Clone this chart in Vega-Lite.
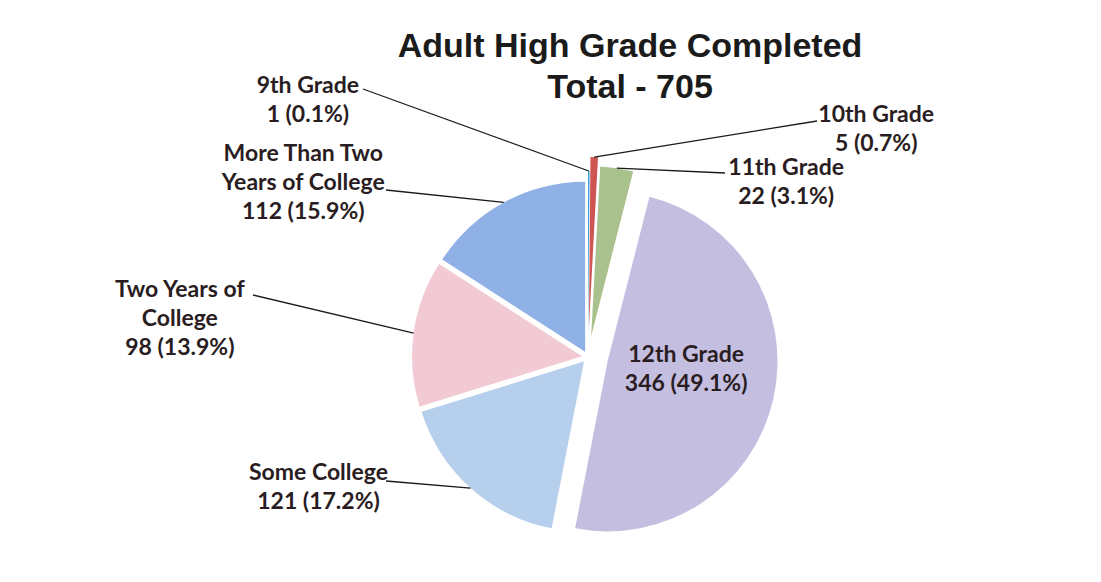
{
  "$schema": "https://vega.github.io/schema/vega-lite/v6.json",
  "width": 1024,
  "height": 448,
  "autosize": "none",
  "padding": {"left": 76, "top": 133, "right": 1, "bottom": 1},
  "background": "white",
  "config": {"view": {"stroke": null}},
  "title": {
    "text": ["Adult High Grade Completed", "Total - 705"],
    "font": "Liberation Sans",
    "fontSize": 34,
    "fontWeight": "bold",
    "color": "#1b1b1b",
    "lineHeight": 41,
    "anchor": "middle",
    "dx": 42,
    "offset": -30
  },
  "data": {
    "values": [
      {"cat": "9th Grade", "n": 1, "label": "9th Grade\n1 (0.1%)"},
      {"cat": "10th Grade", "n": 5, "label": "10th Grade\n5 (0.7%)"},
      {"cat": "11th Grade", "n": 22, "label": "11th Grade\n22 (3.1%)"},
      {"cat": "12th Grade", "n": 346, "label": "12th Grade\n346 (49.1%)"},
      {"cat": "Some College", "n": 121, "label": "Some College\n121 (17.2%)"},
      {"cat": "Two Years of College", "n": 98, "label": "Two Years of\nCollege\n98 (13.9%)"},
      {"cat": "More Than Two Years of College", "n": 112, "label": "More Than Two\nYears of College\n112 (15.9%)"}
    ]
  },
  "transform": [
    {"window": [{"op": "row_number", "as": "idx"}]},
    {"stack": "n", "groupby": [], "sort": [{"field": "idx", "order": "ascending"}], "as": ["s0", "s1"]}
  ],
  "layer": [
    {
      "mark": {
        "type": "arc",
        "radius": 170,
        "xOffset": {"expr": "(datum.idx==1?16:datum.idx==2?30:datum.idx==3?21:datum.idx==4?20:6) * sin(PI*(datum.s0+datum.s1)/705)"},
        "yOffset": {"expr": "-(datum.idx==1?16:datum.idx==2?30:datum.idx==3?21:datum.idx==4?20:6) * cos(PI*(datum.s0+datum.s1)/705)"}
      },
      "encoding": {
        "theta": {"field": "s0", "type": "quantitative", "scale": {"domain": [0, 705]}},
        "theta2": {"field": "s1"},
        "color": {
          "field": "cat",
          "type": "nominal",
          "scale": {
            "domain": ["9th Grade", "10th Grade", "11th Grade", "12th Grade", "Some College", "Two Years of College", "More Than Two Years of College"],
            "range": ["#3a9ad9", "#cf5552", "#a8c18d", "#c4bfe1", "#b6cfec", "#f2cad3", "#8fb1e6"]
          },
          "legend": null
        }
      }
    },
    {
      "transform": [{"filter": "datum.idx != 4"}],
      "mark": {"type": "rule", "color": "#1a1a1a", "strokeWidth": 1.3},
      "encoding": {
        "x": {"value": {"expr": "width/2 + (170 + (datum.idx==1?16:datum.idx==2?30:datum.idx==3?21:6)) * sin(PI*(datum.s0+datum.s1)/705)"}},
        "y": {"value": {"expr": "height/2 - (170 + (datum.idx==1?16:datum.idx==2?30:datum.idx==3?21:6)) * cos(PI*(datum.s0+datum.s1)/705)"}},
        "x2": {"value": {"expr": "width/2 + (datum.idx==1?-225:datum.idx==2?229:datum.idx==3?137:datum.idx==5?-202:datum.idx==6?-335:-202)"}},
        "y2": {"value": {"expr": "height/2 + (datum.idx==1?-268:datum.idx==2?-236:datum.idx==3?-184:datum.idx==5?124:datum.idx==6?-62:-167)"}}
      }
    },
    {
      "mark": {
        "type": "text",
        "radius": 200,
        "font": "Lato",
        "fontWeight": "bold",
        "fontSize": 23,
        "lineHeight": 29,
        "lineBreak": "\n",
        "align": "center",
        "baseline": "middle",
        "color": "#2a1d22",
        "dx": {"expr": "datum.idx==1?-281:datum.idx==2?282:datum.idx==3?168:datum.idx==4?-97:datum.idx==5?-136:datum.idx==6?-210:-189"},
        "dy": {"expr": "datum.idx==1?-71:datum.idx==2?-42:datum.idx==3?9:datum.idx==4?-46:datum.idx==5?-33:datum.idx==6?-40:-27"}
      },
      "encoding": {
        "theta": {"field": "n", "type": "quantitative", "stack": true, "scale": {"domain": [0, 705]}},
        "order": {"field": "idx", "type": "quantitative"},
        "text": {"field": "label"}
      }
    }
  ]
}
